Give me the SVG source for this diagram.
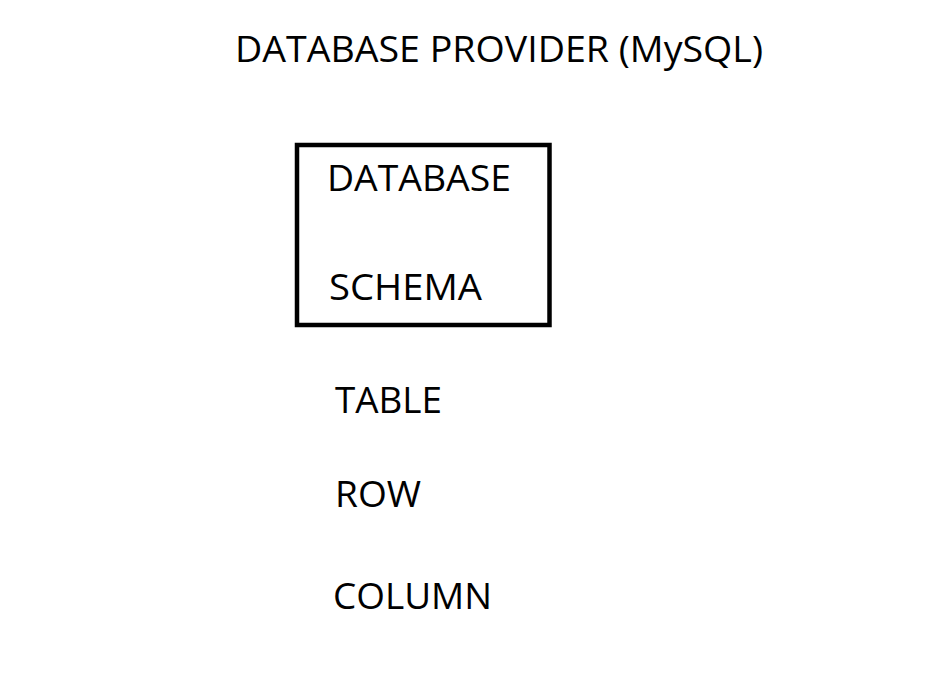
<svg xmlns="http://www.w3.org/2000/svg" width="951" height="681" viewBox="0 0 951 681">
<style>
text{font-family:"Open Sans","Noto Sans","Liberation Sans",sans-serif;font-size:36px;fill:#000}
.box{fill:none;stroke:#000;stroke-width:4.5}
</style>
<rect x="0" y="0" width="951" height="681" fill="#fff"/>
<g id="title"><text x="235" y="62" textLength="528" lengthAdjust="spacingAndGlyphs">DATABASE PROVIDER (MySQL)</text></g>
<g id="database-schema">
<rect class="box" x="297" y="145" width="252.5" height="180"/>
<text x="327" y="191" textLength="184" lengthAdjust="spacingAndGlyphs">DATABASE</text>
<text x="329" y="300" textLength="153" lengthAdjust="spacingAndGlyphs">SCHEMA</text>
</g>
<g id="table"><text x="335" y="413" textLength="107" lengthAdjust="spacingAndGlyphs">TABLE</text></g>
<g id="row"><text x="335" y="507" textLength="86" lengthAdjust="spacingAndGlyphs">ROW</text></g>
<g id="column"><text x="333" y="609" textLength="159" lengthAdjust="spacingAndGlyphs">COLUMN</text></g>
<g id="connectors"></g>
</svg>
